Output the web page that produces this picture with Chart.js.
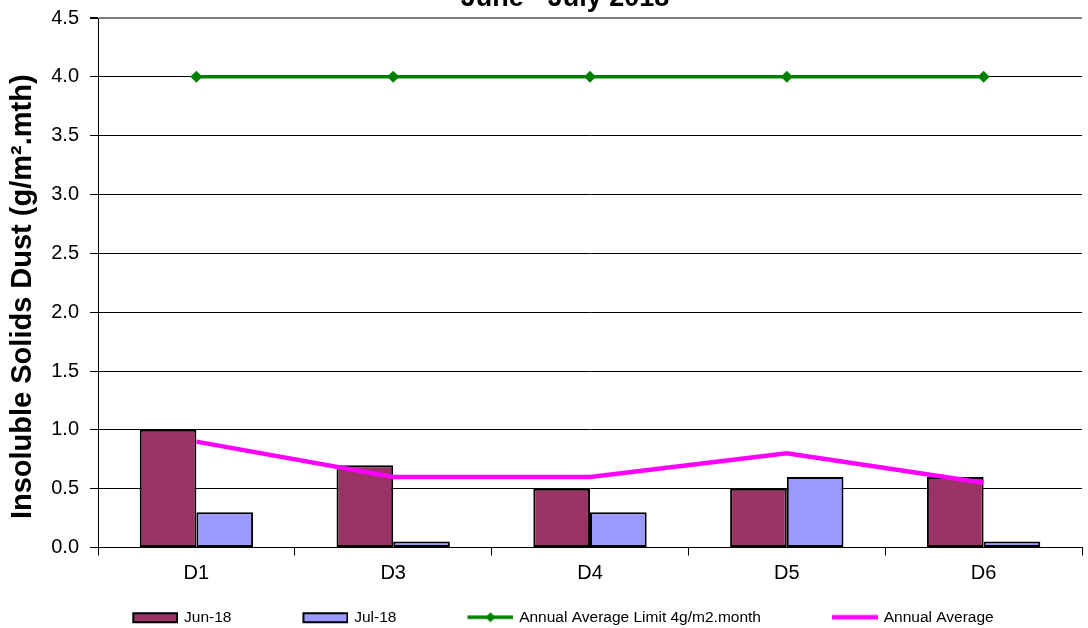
<!DOCTYPE html>
<html>
<head>
<meta charset="utf-8">
<title>Insoluble Solids Dust</title>
<script src="https://cdn.jsdelivr.net/npm/chart.js@4/dist/chart.umd.min.js"></script>
<style>
  html, body { margin: 0; padding: 0; background: #fff; overflow: hidden; }
  #wrap { position: relative; width: 1088px; height: 628px; overflow: hidden; }
  #box { position: absolute; left: 0; top: -18px; width: 1088px; height: 653px; }
</style>
</head>
<body>
<div id="wrap"><div id="box"><canvas id="myChart"></canvas></div></div>
<script>
var sites = ['D1', 'D3', 'D4', 'D5', 'D6'];
var jun18 = [1.0, 0.7, 0.5, 0.5, 0.6];
var jul18 = [0.3, 0.05, 0.3, 0.6, 0.05];
var limit = [4, 4, 4, 4, 4];
var annualAvg = [0.9, 0.6, 0.6, 0.8, 0.55];
var yTicks = [0, 0.5, 1, 1.5, 2, 2.5, 3, 3.5, 4, 4.5];

var MAROON = '#993366';
var LILAC = '#9999FF';
var GREEN = '#008000';
var MAGENTA = '#FF00FF';

Chart.defaults.font.family = "'Liberation Sans', Arial, sans-serif";
Chart.defaults.color = '#000';

// legend swatches: blank lead-in on the left spaces the items apart
function swatch(kind, colour) {
  var c = document.createElement('canvas');
  c.width = 110;
  c.height = 14;
  var g = c.getContext('2d');
  var x0 = 64, w = 46, mid = 7;
  if (kind === 'bar') {
    g.fillStyle = colour;
    g.fillRect(x0 + 1, mid - 4, w - 2, 9);
    g.strokeStyle = '#000';
    g.lineWidth = 2;
    g.strokeRect(x0 + 1, mid - 4, w - 2, 9);
  } else {
    g.strokeStyle = colour;
    g.lineWidth = kind === 'marker' ? 3.5 : 4.5;
    g.beginPath();
    g.moveTo(x0, mid);
    g.lineTo(x0 + w, mid);
    g.stroke();
    if (kind === 'marker') {
      var cx = x0 + w / 2;
      g.fillStyle = colour;
      g.beginPath();
      g.moveTo(cx, mid - 5);
      g.lineTo(cx + 5, mid);
      g.lineTo(cx, mid + 5);
      g.lineTo(cx - 5, mid);
      g.closePath();
      g.fill();
    }
  }
  return c;
}

var swatches = [swatch('bar', MAROON), swatch('bar', LILAC), swatch('marker', GREEN), swatch('line', MAGENTA)];

// move the title and legend sideways, and the y title a little lower
var nudge = {
  id: 'nudge',
  afterLayout: function(chart) {
    chart.titleBlock.left += 21;
    chart.titleBlock.right += 21;
    chart.legend.left -= 12;
    chart.legend.right -= 12;
    var y = chart.scales.y;
    if (!y._nudged) {
      var drawTitle = y.drawTitle;
      y.drawTitle = function() {
        this.top += 14;
        this.bottom += 14;
        drawTitle.call(this);
        this.top -= 14;
        this.bottom -= 14;
      };
      y._nudged = true;
    }
  }
};

var ctx = document.getElementById('myChart').getContext('2d');
var chart = new Chart(ctx, {
  data: {
    labels: sites,
    datasets: [{
      type: 'bar',
      label: 'Jun-18',
      data: jun18,
      backgroundColor: MAROON,
      borderColor: '#000',
      borderWidth: 2,
      borderSkipped: false,
      order: 2
    }, {
      type: 'bar',
      label: 'Jul-18',
      data: jul18,
      backgroundColor: LILAC,
      borderColor: '#000',
      borderWidth: 2,
      borderSkipped: false,
      order: 2
    }, {
      type: 'line',
      label: 'Annual Average Limit 4g/m2.month',
      data: limit,
      borderColor: GREEN,
      backgroundColor: GREEN,
      borderWidth: 3.5,
      pointStyle: 'rectRot',
      pointRadius: 6,
      pointBorderWidth: 0,
      pointBackgroundColor: GREEN,
      tension: 0,
      order: 1
    }, {
      type: 'line',
      label: 'Annual Average',
      data: annualAvg,
      borderColor: MAGENTA,
      backgroundColor: MAGENTA,
      borderWidth: 4.5,
      pointRadius: 0,
      tension: 0,
      order: 1
    }]
  },
  options: {
    responsive: true,
    maintainAspectRatio: false,
    animation: false,
    events: [],
    datasets: {
      bar: { barPercentage: 1, categoryPercentage: 0.576 }
    },
    layout: { padding: 0 },
    scales: {
      x: {
        type: 'category',
        offset: true,
        afterFit: function(s) { s.height = 53; },
        grid: { display: true, offset: true, drawOnChartArea: false, drawTicks: true, tickLength: 8, color: '#000' },
        border: { display: true, color: '#000', width: 1 },
        ticks: { font: { size: 20 }, color: '#000', padding: 6 }
      },
      y: {
        min: 0,
        max: 4.5,
        afterFit: function(s) { s.width = 98; },
        afterBuildTicks: function(s) { s.ticks = yTicks.map(function(v) { return { value: v }; }); },
        grid: {
          color: function(c) { return c.tick && c.tick.value === 4.5 ? '#808080' : '#000'; },
          lineWidth: function(c) { return c.tick && c.tick.value === 4.5 ? 2 : 1; },
          tickLength: 8,
          tickColor: '#000'
        },
        border: { display: true, color: '#000', width: 1 },
        ticks: {
          font: { size: 20 },
          color: '#000',
          padding: 11,
          callback: function(v) { return Number(v).toFixed(1); }
        },
        title: {
          display: true,
          text: 'Insoluble Solids Dust (g/m\u00B2.mth)',
          font: { size: 29, weight: 'bold' },
          color: '#000',
          padding: { top: 6, bottom: 0 }
        }
      }
    },
    plugins: {
      title: {
        display: true,
        text: 'June - July 2018',
        font: { size: 27, weight: 'bold' },
        color: '#000',
        padding: { top: 0, bottom: 3.6 }
      },
      legend: {
        position: 'bottom',
        labels: {
          usePointStyle: true,
          pointStyleWidth: 106,
          padding: 9,
          color: '#000',
          font: { size: 15.5 },
          generateLabels: function(chart) {
            return chart.data.datasets.map(function(ds, i) {
              return {
                text: ds.label,
                pointStyle: swatches[i],
                fillStyle: 'rgba(0,0,0,0)',
                strokeStyle: 'rgba(0,0,0,0)',
                lineWidth: 0,
                hidden: false,
                fontColor: '#000',
                datasetIndex: i
              };
            });
          }
        }
      },
      tooltip: { enabled: false }
    }
  },
  plugins: [nudge]
});
</script>
</body>
</html>
